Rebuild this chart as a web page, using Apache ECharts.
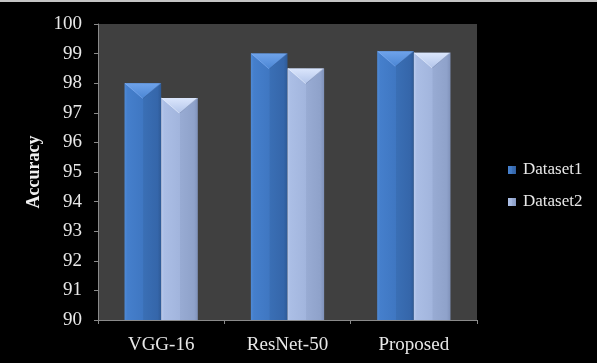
<!DOCTYPE html>
<html><head><meta charset="utf-8">
<script src="https://cdn.jsdelivr.net/npm/echarts@6/dist/echarts.min.js"></script>
<style>html,body{margin:0;padding:0;background:#000;}#c{width:597px;height:363px;}</style>
</head><body><div id="c"></div>
<script>
const categories = ['VGG-16', 'ResNet-50', 'Proposed'];
const dataset1 = [98.0, 99.0, 99.08];
const dataset2 = [97.5, 98.5, 99.03];
const seriesNames = ['Dataset1', 'Dataset2'];
const yMin = 90, yMax = 100, yStep = 1;
const yTitle = 'Accuracy';

const FONT = 'Liberation Serif';
const CAT_GAP = 0.42;

function hGrad(stops) {
  return new echarts.graphic.LinearGradient(0, 0, 1, 0, stops.map((c) => ({offset: c[0], color: c[1]})));
}
const bodyFill = [
  hGrad([[0, '#4f8ad6'], [0.08, '#457fcc'], [0.5, '#3f77c2'], [0.52, '#3a6fb5'], [0.9, '#3566aa'], [1, '#2e5a96']]),
  hGrad([[0, '#bacbee'], [0.08, '#abbee5'], [0.5, '#a2b5dd'], [0.52, '#98abd3'], [0.9, '#8fa2ca'], [1, '#8092ba']])
];
const topFill = [
  new echarts.graphic.LinearGradient(0, 0, 0, 1, [{offset: 0, color: '#6fa3ea'}, {offset: 1, color: '#4b86d4'}]),
  new echarts.graphic.LinearGradient(0, 0, 0, 1, [{offset: 0, color: '#dbe6fc'}, {offset: 1, color: '#b3c5ea'}])
];

const bevelData = [];
[dataset1, dataset2].forEach((arr, s) => arr.forEach((v, i) => bevelData.push([i, v, s])));

const chart = echarts.init(document.getElementById('c'), null, {renderer: 'canvas'});
chart.setOption({
  backgroundColor: '#000000',
  animation: false,
  graphic: [{type: 'rect', left: 0, top: 0, shape: {width: 597, height: 2}, style: {fill: '#c4c4c4'}}],
  grid: {left: 98, top: 24, width: 379, height: 296, show: true, backgroundColor: '#404040', borderWidth: 0},
  legend: {
    orient: 'vertical', left: 503, top: 155, itemWidth: 8, itemHeight: 8, itemGap: 12,
    icon: 'rect', data: seriesNames,
    textStyle: {fontFamily: FONT, fontSize: 17, color: '#e8e8e8', lineHeight: 20, padding: [0, 0, 0, 2]}
  },
  xAxis: {
    type: 'category', data: categories,
    axisLine: {lineStyle: {color: '#8a8a8a', width: 1}},
    axisTick: {show: true, length: 4, lineStyle: {color: '#8a8a8a'}},
    axisLabel: {fontFamily: FONT, fontSize: 19, color: '#e8e8e8', margin: 16}
  },
  yAxis: {
    type: 'value', min: yMin, max: yMax, interval: yStep,
    name: yTitle, nameLocation: 'middle', nameGap: 55, nameMoveOverlap: false,
    nameTextStyle: {fontFamily: FONT, fontSize: 18, fontWeight: 'bold', color: '#f0f0f0'},
    axisLine: {show: true, lineStyle: {color: '#8a8a8a', width: 1}},
    axisTick: {show: true, length: 4, lineStyle: {color: '#8a8a8a'}},
    splitLine: {show: false},
    axisLabel: {fontFamily: FONT, fontSize: 19, color: '#e8e8e8', margin: 16}
  },
  series: [
    {name: seriesNames[0], type: 'bar', data: dataset1, barGap: '0%', barCategoryGap: (CAT_GAP * 100) + '%',
     itemStyle: {color: bodyFill[0]}},
    {name: seriesNames[1], type: 'bar', data: dataset2, barGap: '0%', barCategoryGap: (CAT_GAP * 100) + '%',
     itemStyle: {color: bodyFill[1]}},
    {type: 'custom', z: 5, data: bevelData, silent: true,
     renderItem: function (params, api) {
       const ci = api.value(0), v = api.value(1), s = api.value(2);
       const top = api.coord([ci, v]);
       const band = api.size([1, 0])[0];
       const bw = band * (1 - CAT_GAP) / 2;
       const x0 = s === 0 ? top[0] - bw : top[0];
       const x1 = x0 + bw;
       const yt = top[1];
       const d = bw * 0.42;
       const mid = (x0 + x1) / 2;
       return {type: 'group', children: [
         {type: 'polygon', shape: {points: [[x0, yt], [x1, yt], [mid, yt + d]]}, style: {fill: topFill[s]}},
         {type: 'line', shape: {x1: x0 + 0.5, y1: yt, x2: mid, y2: yt + d}, style: {stroke: s === 0 ? 'rgba(150,190,255,0.4)' : 'rgba(240,245,255,0.5)', lineWidth: 1}},
         {type: 'line', shape: {x1: x1 - 0.5, y1: yt, x2: mid, y2: yt + d}, style: {stroke: 'rgba(20,40,80,0.2)', lineWidth: 1}}
       ]};
     }}
  ]
});
</script></body></html>
